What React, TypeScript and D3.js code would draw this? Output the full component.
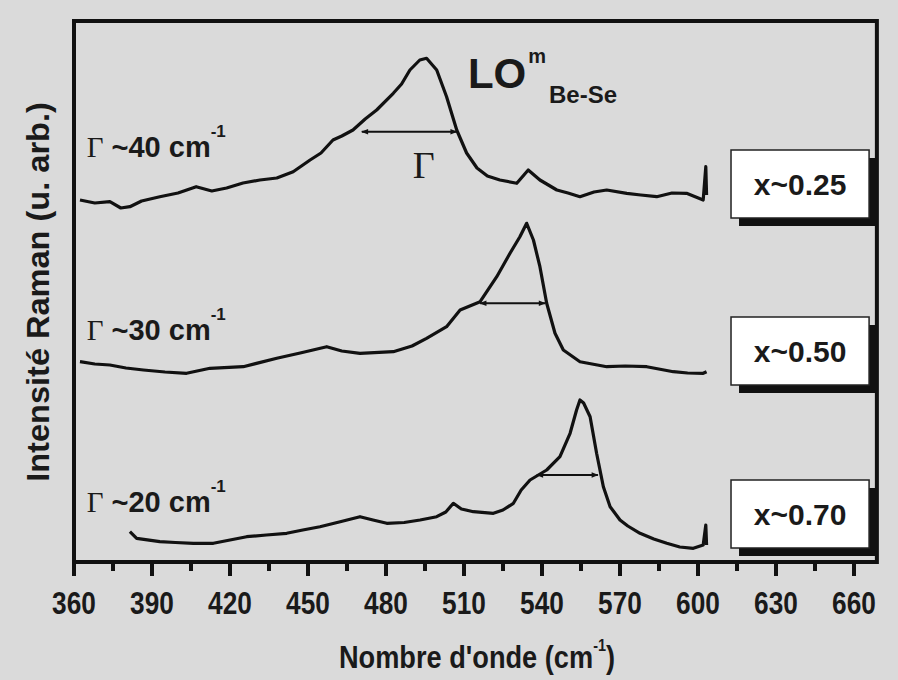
import React from "react";
import * as d3 from "d3";

// Wavenumber (cm^-1) and Raman intensity (arb. units, with vertical offsets as in the figure)
const topWave = [362.3, 368, 373.8, 378, 381.5, 386, 393, 400, 407, 413, 418.7, 425, 431.5, 438, 444.3, 450.8, 455, 459.6, 463, 467.3, 472, 476.4, 482.8, 486, 489.2, 493, 495.6, 499.5, 503.3, 507.2, 511, 515, 519, 523.8, 530.3, 534.7, 539.2, 545.7, 550, 554.6, 560, 564.9, 572.6, 578, 584.1, 590, 595.6, 602, 603, 603.3];
const topInt = [362, 359, 360.3, 354, 355.3, 361, 365.3, 369, 375.3, 371, 374, 379, 382, 384, 390.3, 402, 409, 422, 426, 432, 443, 452, 468.7, 478, 492, 502, 503.7, 492, 465.3, 432, 409, 394, 386, 382, 378.7, 392, 382, 372, 369, 365.3, 370, 372, 368.7, 367, 365.3, 369, 368.7, 362, 395.3, 367];

const midWave = [362.3, 368, 373.8, 380, 386.7, 395, 403.3, 412.3, 425.1, 438, 447, 457.2, 463, 470, 482.8, 490, 495.6, 503.3, 508.5, 516.2, 522.6, 527.7, 531.5, 534.1, 536.7, 539.2, 541.8, 545, 548.2, 554.6, 564.9, 572, 580.3, 590.5, 596, 602, 603.3];
const midInt = [200.3, 198, 197, 194, 192, 190, 188.7, 193.7, 195.3, 203.7, 209, 215.3, 211, 208.7, 210.3, 216, 223.7, 235.3, 252, 260.3, 285.3, 308.7, 325.3, 338.7, 322, 295.3, 258.7, 228.7, 212, 200.3, 195.3, 196, 195.3, 190.3, 189, 188.7, 190.3];

const lowWave = [381.5, 384.1, 393, 399, 405.9, 413.6, 420, 426.4, 434, 441.8, 448, 454.6, 462, 470, 475, 480.3, 487, 493.1, 499.5, 503, 505.9, 509, 513.6, 521.3, 525, 529, 532, 535.4, 541.8, 546.9, 550.8, 553.3, 554.6, 556, 558.5, 561, 563.6, 566.2, 570, 573, 577.7, 583, 588, 593, 598.2, 602, 603, 603.3];
const lowInt = [30.3, 23.7, 20.3, 19.5, 18.7, 18.7, 22, 25.3, 27, 28.7, 32, 35.3, 40, 45.3, 42, 38.7, 39.5, 42, 45.3, 50, 58.7, 53, 50.3, 48.7, 52, 58.7, 72, 82, 92, 105.3, 128.7, 152, 162, 159, 145.3, 108.7, 75.3, 55.3, 42, 36, 28.7, 23, 18.7, 15, 13.7, 17, 37, 17];

// FWHM arrows: [start, end, level]
const arrowStart = [470.7, 516.2, 538];
const arrowEnd = [507.2, 541.2, 561.5];
const arrowLevel = [430.3, 258.7, 87];

const widthLabels = ["~40 cm", "~30 cm", "~20 cm"];
const widthLabelLevel = [405.3, 222, 50.3];
const compLabels = ["x~0.25", "x~0.50", "x~0.70"];
const compBoxTop = [412, 245, 82];

const xTicks = d3.range(360, 661, 15);
const xTickLabels = ["360", "390", "420", "450", "480", "510", "540", "570", "600", "630", "660"];

const W = 898;
const H = 680;
const BG = "#dadada";
const SANS = "'Liberation Sans', Arial, Helvetica, sans-serif";
const SERIF = "'Liberation Serif', 'Times New Roman', serif";
const INK = "#1a1a1a";

export default function App() {
  const x = d3.scaleLinear().domain([360, 660]).range([74, 854]);
  const y = d3.scaleLinear().domain([0, 541]).range([562, 21]);
  const xRight = x(668.8);

  const line = d3
    .line<[number, number]>()
    .x((d) => x(d[0]))
    .y((d) => y(d[1]));

  const series = [
    topWave.map((w, i) => [w, topInt[i]] as [number, number]),
    midWave.map((w, i) => [w, midInt[i]] as [number, number]),
    lowWave.map((w, i) => [w, lowInt[i]] as [number, number]),
  ];

  const boxL = x(612.7);
  const boxR = x(665.8);
  const boxH = 68;

  return (
    <svg width={W} height={H} style={{ position: "absolute", left: 0, top: 0 }}>
      <defs>
        <marker id="ah" viewBox="0 0 10 10" refX="9" refY="5" markerWidth="8" markerHeight="7" orient="auto-start-reverse" markerUnits="userSpaceOnUse">
          <path d="M0,1 L10,5 L0,9 Z" fill="#111" />
        </marker>
      </defs>
      <rect x={0} y={0} width={W} height={H} fill={BG} />

      {/* curves */}
      {series.map((s, i) => (
        <path key={i} d={line(s) || ""} fill="none" stroke="#111" strokeWidth={3.2} strokeLinejoin="round" />
      ))}

      {/* FWHM arrows */}
      {arrowStart.map((a, i) => (
        <line key={i} x1={x(a)} x2={x(arrowEnd[i])} y1={y(arrowLevel[i])} y2={y(arrowLevel[i])} stroke="#111" strokeWidth={2} markerStart="url(#ah)" markerEnd="url(#ah)" />
      ))}

      {/* width labels */}
      {widthLabels.map((t, i) => (
        <text key={i} x={x(364.9)} y={y(widthLabelLevel[i])} fill={INK}>
          <tspan fontFamily={SERIF} fontSize={29}>Γ</tspan>
          <tspan fontFamily={SANS} fontWeight="bold" fontSize={29} dx={8}>{t}</tspan>
          <tspan fontFamily={SANS} fontWeight="bold" fontSize={17} dy={-20}>-1</tspan>
        </text>
      ))}

      {/* Gamma under top arrow */}
      <text x={x(494.5)} y={y(384)} fontFamily={SERIF} fontSize={38} textAnchor="middle" fill={INK}>Γ</text>

      {/* LO m Be-Se */}
      <text x={x(511.5)} y={y(474)} fill={INK} fontFamily={SANS} fontWeight="bold">
        <tspan fontSize={42}>LO</tspan>
        <tspan fontSize={20} dx={2} dy={-25}>m</tspan>
        <tspan fontSize={24} dx={3} dy={40}>Be-Se</tspan>
      </text>

      {/* composition boxes */}
      {compLabels.map((t, i) => {
        const top = y(compBoxTop[i]);
        return (
          <g key={i}>
            <rect x={boxL + 8} y={top + 8} width={boxR - boxL} height={boxH} fill="#111" />
            <rect x={boxL} y={top} width={boxR - boxL} height={boxH} fill="#fff" stroke="#222" strokeWidth={1.5} />
            <text x={(boxL + boxR) / 2} y={top + 45} textAnchor="middle" fontFamily={SANS} fontWeight="bold" fontSize={30} fill={INK}>{t}</text>
          </g>
        );
      })}

      {/* frame */}
      <rect x={x(360)} y={y(541)} width={xRight - x(360)} height={y(0) - y(541)} fill="none" stroke="#111" strokeWidth={4} />

      {/* x ticks */}
      {xTicks.map((v) => {
        const major = (v - 360) % 30 === 0;
        return <line key={v} x1={x(v)} x2={x(v)} y1={y(0)} y2={y(0) + (major ? 14 : 9)} stroke="#111" strokeWidth={4} />;
      })}
      {xTickLabels.map((t) => (
        <text key={t} transform={`translate(${x(+t)},614) scale(0.82,1)`} textAnchor="middle" fontFamily={SANS} fontWeight="bold" fontSize={32} fill={INK}>{t}</text>
      ))}

      {/* axis titles */}
      <text transform={`translate(${x(515)},668) scale(0.85,1)`} textAnchor="middle" fontFamily={SANS} fontWeight="bold" fontSize={32} fill={INK}>
        Nombre d'onde (cm<tspan fontSize={17} dy={-17}>-1</tspan><tspan dy={17}>)</tspan>
      </text>
      <text transform="translate(49,292) rotate(-90) scale(1.05,1)" textAnchor="middle" fontFamily={SANS} fontWeight="bold" fontSize={31} fill={INK}>
        Intensité Raman (u. arb.)
      </text>
    </svg>
  );
}
